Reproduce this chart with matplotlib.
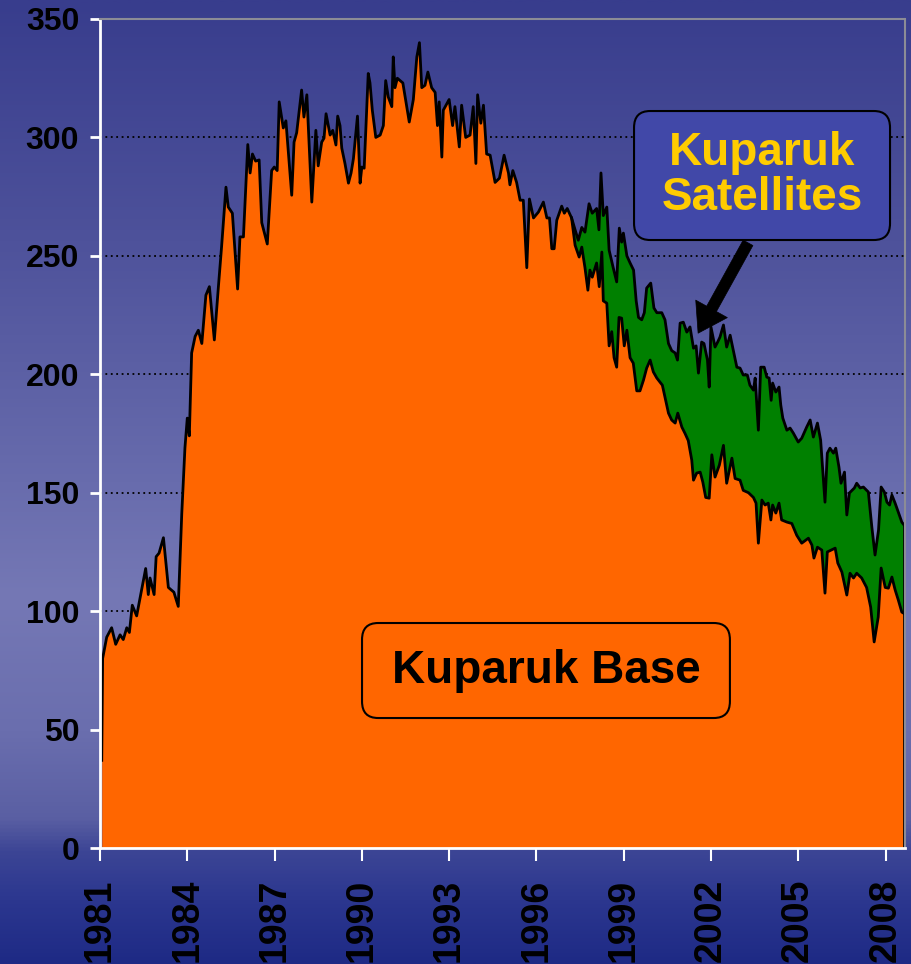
import numpy as np
import matplotlib
matplotlib.use("Agg")
import matplotlib.pyplot as plt
from matplotlib.colors import LinearSegmentedColormap
from matplotlib.patches import FancyBboxPatch

# ---------------- data ----------------
base_years = [1981.06, 1981.09, 1981.23, 1981.40, 1981.54, 1981.69, 1981.80, 1981.92,
              1982.01, 1982.11, 1982.26, 1982.43, 1982.57, 1982.66, 1982.72, 1982.86,
              1982.93, 1983.03, 1983.18, 1983.35, 1983.54, 1983.69, 1983.81, 1983.92,
              1984.00, 1984.07, 1984.15, 1984.27, 1984.38, 1984.50, 1984.64, 1984.76,
              1984.93, 1985.07, 1985.18, 1985.33, 1985.41, 1985.55, 1985.73, 1985.81,
              1985.93, 1986.08, 1986.16, 1986.24, 1986.35, 1986.47, 1986.56, 1986.75,
              1986.90, 1986.99, 1987.09, 1987.16, 1987.30, 1987.39, 1987.59, 1987.67,
              1987.76, 1987.93, 1988.01, 1988.11, 1988.28, 1988.42, 1988.50, 1988.62,
              1988.70, 1988.77, 1988.91, 1989.00, 1989.11, 1989.17, 1989.25, 1989.31,
              1989.42, 1989.54, 1989.63, 1989.71, 1989.85, 1989.94, 1990.00, 1990.08,
              1990.22, 1990.28, 1990.36, 1990.48, 1990.63, 1990.74, 1990.82, 1990.91,
              1991.03, 1991.08, 1991.14, 1991.22, 1991.41, 1991.63, 1991.77, 1991.89,
              1991.98, 1992.06, 1992.17, 1992.27, 1992.40, 1992.52, 1992.60, 1992.66,
              1992.75, 1992.80, 1993.00, 1993.12, 1993.20, 1993.35, 1993.43, 1993.57,
              1993.72, 1993.83, 1993.92, 1993.98, 1994.09, 1994.18, 1994.29, 1994.41,
              1994.58, 1994.73, 1994.89, 1995.04, 1995.09, 1995.19, 1995.32, 1995.44,
              1995.55, 1995.67, 1995.76, 1995.90, 1996.07, 1996.24, 1996.36, 1996.45,
              1996.53, 1996.61, 1996.70, 1996.87, 1996.96, 1997.06, 1997.21, 1997.33,
              1997.47, 1997.56, 1997.67, 1997.77, 1997.84, 1997.92, 1998.07, 1998.16,
              1998.25, 1998.30, 1998.42, 1998.50, 1998.59, 1998.67, 1998.76, 1998.84,
              1998.93, 1999.02, 1999.11, 1999.22, 1999.33, 1999.45, 1999.56, 1999.68,
              1999.79, 1999.91, 2000.02, 2000.14, 2000.33, 2000.42, 2000.54, 2000.65,
              2000.77, 2000.86, 2001.00, 2001.11, 2001.22, 2001.34, 2001.40, 2001.51,
              2001.63, 2001.72, 2001.82, 2001.94, 2002.03, 2002.14, 2002.29, 2002.43,
              2002.54, 2002.72, 2002.83, 2003.00, 2003.11, 2003.29, 2003.46, 2003.55,
              2003.63, 2003.75, 2003.86, 2003.97, 2004.06, 2004.12, 2004.23, 2004.34,
              2004.43, 2004.61, 2004.78, 2004.95, 2005.12, 2005.35, 2005.47, 2005.54,
              2005.66, 2005.81, 2005.92, 2006.00, 2006.27, 2006.36, 2006.50, 2006.67,
              2006.78, 2006.90, 2007.01, 2007.18, 2007.35, 2007.49, 2007.61, 2007.75,
              2007.85, 2007.99, 2008.10, 2008.22, 2008.33, 2008.44, 2008.56, 2008.64]
base_values = [37, 80, 89, 93, 86, 90, 88, 93,
               91, 102.5, 98, 109, 118, 107, 114, 107,
               123, 124.5, 131, 110, 108, 102, 141, 169,
               181.5, 174, 209, 216, 218.6, 213, 233.4, 237,
               214.5, 237, 254, 279, 270.6, 268, 236, 258,
               258, 297, 285, 293, 290, 290.5, 264, 255,
               286, 287.5, 286, 315, 304, 307, 275.6, 298,
               302, 320, 308.6, 318, 272.7, 303, 288, 298,
               299.7, 310, 301, 303, 296.8, 309, 305, 295.5,
               289, 280.7, 285, 291, 309, 280.7, 287.5, 287,
               327, 323, 311.5, 300, 301, 305, 324, 317,
               313, 334, 321, 325, 323, 306.5, 316, 334,
               340, 321, 322, 327.6, 321, 319, 305, 315,
               291.7, 311.5, 316, 305, 313, 296, 313.6, 300,
               301, 313, 289, 318, 306, 313.6, 293, 292.5,
               281, 282.8, 292.5, 285, 280, 286, 281, 273.5,
               273.5, 245, 274, 266, 268.5, 272.7, 266, 266,
               253, 253, 265, 271, 268, 270, 266, 254.5,
               249.5, 253.7, 245, 235.5, 244, 241, 247, 237,
               251.6, 231, 230, 212, 218, 207, 203, 224,
               223.7, 212, 218.6, 207, 204.7, 193, 193, 197.5,
               202.6, 206, 201, 198.4, 195.4, 190.4, 183.6, 180.7,
               179.4, 183.6, 177.7, 175, 172, 163.8, 155.3, 158.3,
               158.7, 154.5, 148, 147.7, 166, 156.6, 161.7, 170,
               154, 164.6, 156, 155.3, 151, 150, 148, 145.6,
               128.7, 146.9, 144.8, 145.6, 138.5, 144.8, 141.4, 145.6,
               138.5, 137.6, 137, 132, 128.7, 130.8, 127.9, 122.4,
               127, 125.8, 107.6, 125, 126.6, 120.3, 116.5, 106.8,
               116, 114, 116, 114, 110, 101.7, 87, 97.5,
               118.2, 110, 109.7, 114.4, 109, 104.7, 99.6, 99]

# total production (base + satellites) from the start of the satellites
total_years = [1997.21, 1997.33, 1997.44, 1997.56, 1997.67, 1997.81, 1997.92, 1998.07,
               1998.15, 1998.22, 1998.30, 1998.42, 1998.50, 1998.64, 1998.76, 1998.85,
               1998.93, 1998.99, 1999.11, 1999.22, 1999.34, 1999.43, 1999.51, 1999.62,
               1999.71, 1999.79, 1999.93, 2000.04, 2000.14, 2000.31, 2000.42, 2000.54,
               2000.65, 2000.77, 2000.85, 2000.94, 2001.05, 2001.17, 2001.28, 2001.40,
               2001.49, 2001.57, 2001.68, 2001.76, 2001.88, 2001.94, 2002.00, 2002.14,
               2002.23, 2002.31, 2002.43, 2002.54, 2002.66, 2002.77, 2002.89, 2003.00,
               2003.11, 2003.25, 2003.34, 2003.46, 2003.52, 2003.63, 2003.71, 2003.83,
               2003.92, 2004.00, 2004.07, 2004.12, 2004.23, 2004.34, 2004.40, 2004.47,
               2004.61, 2004.72, 2004.83, 2005.00, 2005.12, 2005.29, 2005.41, 2005.52,
               2005.66, 2005.77, 2005.92, 2006.00, 2006.09, 2006.21, 2006.29, 2006.40,
               2006.47, 2006.59, 2006.67, 2006.76, 2006.93, 2007.01, 2007.13, 2007.24,
               2007.41, 2007.53, 2007.64, 2007.76, 2007.85, 2007.96, 2008.05, 2008.14,
               2008.22, 2008.33, 2008.44, 2008.56, 2008.64]
total_values = [266, 261, 256.6, 262, 260, 272, 268, 270,
                261, 285, 267, 270.6, 252.4, 245, 239, 261.7,
                255.8, 259.6, 250, 247, 244, 231, 224, 223,
                226, 236.4, 238.5, 228, 226, 226, 223, 213,
                210, 209, 206, 221.6, 222, 217.8, 220, 211,
                212, 200.5, 213.6, 213, 206, 194.6, 220, 211.5,
                213.6, 215.7, 220.8, 211.5, 216.5, 210, 203, 202.6,
                199.7, 199.7, 195.4, 193.3, 198.4, 176.4, 203, 203,
                198.8, 198.4, 189, 196.3, 192.5, 194.6, 187, 181.5,
                176.4, 177.3, 175.2, 171.4, 173, 177.7, 180.7, 173.5,
                179.4, 172.2, 146, 166.7, 168.8, 166.7, 168.8, 160.8,
                154, 158.7, 140.6, 149.9, 152, 154, 152, 152.4,
                150.3, 135.5, 123.7, 134.2, 152.4, 150.3, 146, 144.8,
                149, 145.6, 141.8, 137.6, 136.3]

xtick_years = [1981, 1984, 1987, 1990, 1993, 1996, 1999, 2002, 2005, 2008]
ytick_values = [0, 50, 100, 150, 200, 250, 300, 350]

base_label = "Kuparuk Base"
sat_label = "Kuparuk\nSatellites"

# ---------------- figure ----------------
W, H = 911, 964
fig = plt.figure(figsize=(W / 100, H / 100), dpi=100)

# background gradient
stops = [(0.00, "#383d8d"), (0.25, "#4e529b"), (0.50, "#686cad"), (0.62, "#7578b5"),
         (0.76, "#6a6eae"), (0.85, "#5a5fa3"), (0.885, "#3c4595"), (0.93, "#2d3890"),
         (1.00, "#1e2a85")]
cmap = LinearSegmentedColormap.from_list("bg", stops)
bg = fig.add_axes([0, 0, 1, 1], zorder=-10)
grad = np.linspace(0, 1, 512).reshape(-1, 1)
bg.imshow(grad, aspect="auto", cmap=cmap, extent=[0, 1, 0, 1], origin="upper")
bg.set_axis_off()

ax = fig.add_axes([100 / W, 116 / H, 805 / W, 829 / H])
ax.patch.set_alpha(0)
ax.set_xlim(1981, 2008.67)
ax.set_ylim(0, 350)

# grid
for v in ytick_values[1:-1]:
    ax.axhline(v, color="black", ls=(0, (1, 2)), lw=1.3, zorder=1)

# areas
ax.fill_between(base_years, 0, base_values, color="#ff6600", lw=0, zorder=2)
start = total_years[0]
bx = [y for y in base_years if y >= start]
bv = [v for y, v in zip(base_years, base_values) if y >= start]
ax.fill(list(total_years) + bx[::-1], list(total_values) + bv[::-1],
        color="#008000", lw=0, zorder=2)
ax.plot(base_years, base_values, color="black", lw=2, zorder=3, solid_joinstyle="round")
ax.plot(total_years, total_values, color="black", lw=2, zorder=3, solid_joinstyle="round")
ax.plot([total_years[-1], total_years[-1]], [0, total_values[-1]], color="black", lw=2, zorder=3)

# spines / ticks
for s in ["left", "bottom"]:
    ax.spines[s].set_color("white")
    ax.spines[s].set_linewidth(2)
ax.spines["top"].set_color("#8c8c96")
ax.spines["top"].set_linestyle((0, (2, 1)))
ax.spines["top"].set_linewidth(1.5)
ax.spines["right"].set_color("#8c8c96")
ax.spines["right"].set_linewidth(1.5)
for s in ax.spines.values():
    s.set_zorder(4)

ax.set_yticks(ytick_values)
ax.set_yticklabels([str(v) for v in ytick_values])
ax.set_xticks(xtick_years)
ax.set_xticklabels([str(v) for v in xtick_years], rotation=90)
ax.tick_params(axis="y", colors="white", length=7, width=2, direction="out", pad=8,
               labelcolor="black")
ax.tick_params(axis="x", colors="white", length=9, width=1.5, direction="out", pad=13,
               labelcolor="black")
for lab in ax.get_yticklabels():
    lab.set_fontfamily("Liberation Sans")
    lab.set_fontweight("bold")
    lab.set_fontsize(23)
for lab in ax.get_xticklabels():
    lab.set_fontfamily("Liberation Sans")
    lab.set_fontweight("bold")
    lab.set_fontsize(27)
    lab.set_va("top")

# annotation boxes
box1 = FancyBboxPatch((0.3255, 0.1568), 0.457, 0.1146, transform=ax.transAxes,
                      boxstyle="round,pad=0,rounding_size=0.02", fc="#ff6600",
                      ec="black", lw=1.5, zorder=5)
ax.add_patch(box1)
ax.text(0.3255 + 0.457 / 2, 0.1568 + 0.1146 / 2, base_label, transform=ax.transAxes,
        ha="center", va="center", fontsize=33, fontweight="bold",
        family="Liberation Sans", color="black", zorder=6)

box2 = FancyBboxPatch((0.6634, 0.7334), 0.318, 0.1556, transform=ax.transAxes,
                      boxstyle="round,pad=0,rounding_size=0.02", fc="#4148a8",
                      ec="black", lw=1.5, zorder=5)
ax.add_patch(box2)
ax.text(0.6634 + 0.318 / 2, 0.7334 + 0.1556 / 2, sat_label, transform=ax.transAxes,
        ha="center", va="center", ma="center", fontsize=33, fontweight="bold",
        family="Liberation Sans", color="#ffcc00", linespacing=1.05, zorder=6)

ax.annotate("", xy=(0.743, 0.621), xytext=(0.805, 0.730), xycoords="axes fraction",
            textcoords="axes fraction",
            arrowprops=dict(arrowstyle="simple,head_length=1.0,head_width=1.3,tail_width=0.4",
                            mutation_scale=20, fc="black", ec="black", lw=0.5,
                            shrinkA=0, shrinkB=0),
            zorder=6)

fig.savefig("out.png", dpi=100)
